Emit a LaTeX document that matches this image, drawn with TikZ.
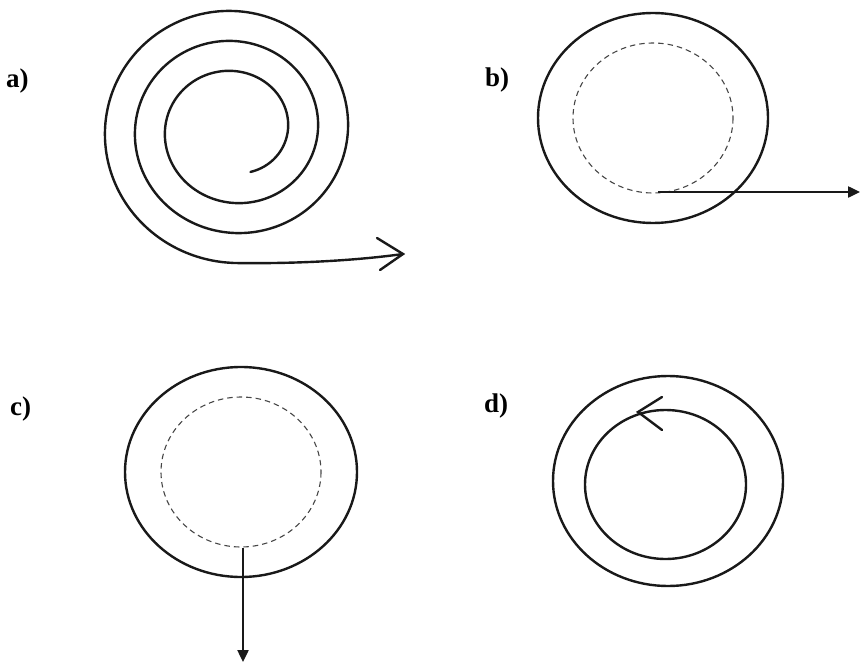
\documentclass[tikz,border=0pt]{standalone}
\usepackage{fontspec}
\setmainfont{Liberation Serif}
\usetikzlibrary{arrows.meta}
\begin{document}
\begin{tikzpicture}[x=1pt,y=-1pt,
  ink/.style={line width=2.4pt, black!90},
  dashring/.style={line width=1.1pt, gray!55!black, dash pattern=on 5.5pt off 4pt},
  panellabel/.style={anchor=base west, inner sep=0pt, font=\fontsize{27}{30}\selectfont\bfseries},
  arr/.style={ink, -{Triangle[length=12pt,width=11pt]}},
  barb/.style={ink, line cap=round}]
\useasboundingbox (0,0) rectangle (861,663);
% labels
\node[panellabel] (la) at (6,88) {a)};
\node[panellabel] (lb) at (485,87) {b)};
\node[panellabel] (lc) at (10,415) {c)};
\node[panellabel] (ld) at (484,412) {d)};
% a) spiral
\coordinate (atip) at (403,254);
\coordinate (ab1) at (377,238);
\coordinate (ab2) at (380,270);
\draw[ink, line cap=round] plot[domain=-70:990, samples=240, smooth]
  ({234+(54+\x/12)*cos(\x)}, {129.5-(51+\x/12)*sin(\x)})
  .. controls (300,264) and (360,260) .. (atip);
\draw[barb] (ab1) -- (atip) -- (ab2);
% b)
\draw[ink] (653,118) ellipse [x radius=115, y radius=105];
\draw[dashring] (653,118) ellipse [x radius=80, y radius=75];
\coordinate (bs) at (658,192);
\coordinate (be) at (860,192);
\draw[arr] (bs) -- (be);
% c)
\draw[ink] (241,472) ellipse [x radius=116, y radius=105];
\draw[dashring] (241,472) ellipse [x radius=80, y radius=75];
\coordinate (cs) at (243,548);
\coordinate (ce) at (243,662);
\draw[arr] (cs) -- (ce);
% d)
\draw[ink] (668,481) ellipse [x radius=115, y radius=105];
\draw[ink] (665.5,484.5) ellipse [x radius=80.5, y radius=74.5];
\coordinate (dtip) at (638,412);
\coordinate (db1) at (662,397);
\coordinate (db2) at (662,430);
\draw[barb] (db1) -- (dtip) -- (db2);
\end{tikzpicture}
\end{document}
